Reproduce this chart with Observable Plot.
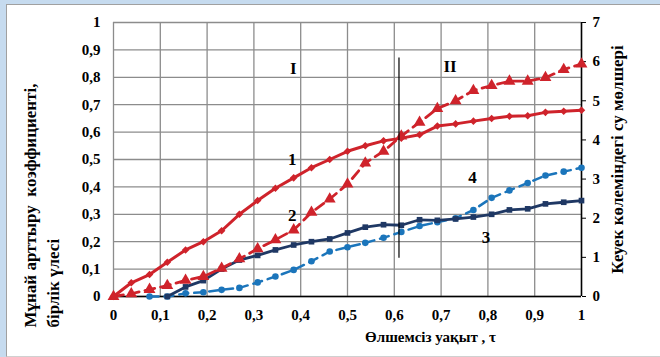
<!DOCTYPE html>
<html><head><meta charset="utf-8">
<script src="https://cdn.jsdelivr.net/npm/d3@7"></script>
<script src="https://cdn.jsdelivr.net/npm/@observablehq/plot@0.6"></script>
<style>
body{margin:0;background:#c6dbef;width:660px;height:357px;overflow:hidden;position:relative}
#box{position:absolute;left:6px;top:4px;width:654px;height:351px;background:#fff;border-left:1px solid #a0a0a0;border-top:1px solid #a0a0a0;border-bottom:1px solid #d0d0d0;}
</style></head><body><div id="box"></div>
<script>
// Dimensionless time τ
const tau = [0, 0.038, 0.077, 0.115, 0.154, 0.192, 0.231, 0.269, 0.308, 0.346, 0.385, 0.423, 0.462, 0.5,
  0.538, 0.577, 0.615, 0.654, 0.692, 0.731, 0.769, 0.808, 0.846, 0.885, 0.923, 0.962, 1];
// Curve 1 (left axis, oil recovery coefficient)
const curve1 = [0, 0.05, 0.08, 0.125, 0.17, 0.2, 0.24, 0.30, 0.35, 0.395, 0.433, 0.47, 0.50, 0.53,
  0.55, 0.568, 0.578, 0.59, 0.622, 0.63, 0.64, 0.65, 0.658, 0.66, 0.672, 0.676, 0.68];
// Curve 2 (right axis, water in pore volumes)
const curve2 = [0, 0.07, 0.18, 0.28, 0.41, 0.51, 0.72, 0.96, 1.22, 1.45, 1.70, 2.15, 2.49, 2.87,
  3.41, 3.71, 4.10, 4.45, 4.80, 5.0, 5.26, 5.39, 5.5, 5.5, 5.59, 5.8, 5.94];
// Curve 3 (left axis)
const curve3 = [null, null, null, 0, 0.035, 0.058, 0.10, 0.133, 0.15, 0.17, 0.188, 0.20, 0.21, 0.232,
  0.253, 0.262, 0.26, 0.28, 0.278, 0.283, 0.29, 0.30, 0.316, 0.32, 0.338, 0.344, 0.35];
// Curve 4 (right axis)
const curve4 = [null, null, 0, 0, 0.08, 0.11, 0.17, 0.22, 0.36, 0.51, 0.68, 0.90, 1.15, 1.26,
  1.37, 1.50, 1.65, 1.80, 1.90, 2.00, 2.21, 2.52, 2.71, 2.90, 3.09, 3.19, 3.29];

const leftTicks = [0, 0.1, 0.2, 0.3, 0.4, 0.5, 0.6, 0.7, 0.8, 0.9, 1];
const xTicks = [0, 0.1, 0.2, 0.3, 0.4, 0.5, 0.6, 0.7, 0.8, 0.9, 1];
const rightTicks = [0, 1, 2, 3, 4, 5, 6, 7];
const rightMax = 7;

const stageBoundary = 0.61;
const annotations = [
  {t: "I", x: 0.384, y: 0.833}, {t: "II", x: 0.719, y: 0.839},
  {t: "1", x: 0.382, y: 0.5}, {t: "2", x: 0.382, y: 0.296},
  {t: "3", x: 0.796, y: 0.216}, {t: "4", x: 0.767, y: 0.435}
];

const toRows = (vals, right) => tau.map((x, i) => ({x, y: vals[i] == null ? null : (right ? vals[i] / rightMax : vals[i])})).filter(d => d.y != null);
const s1 = toRows(curve1, false), s2 = toRows(curve2, true), s3 = toRows(curve3, false), s4 = toRows(curve4, true);

const fmt = d => (d === 0 || d === 1) ? String(d) : d.toFixed(1).replace(".", ",");
const RED = "#cf232b", NAVY = "#1f3864", BLUE = "#1b75bb";

const chart = Plot.plot({
  width: 653, height: 351,
  marginLeft: 106, marginTop: 17, marginRight: 79, marginBottom: 60,
  x: {domain: [0, 1]}, y: {domain: [0, 1]},
  style: {fontFamily: "'Liberation Serif', 'Times New Roman', serif", fontWeight: "bold", fontSize: "15px", color: "#000", background: "white"},
  marks: [
    Plot.gridX(xTicks, {stroke: "#8c8c8c", strokeOpacity: 1, strokeWidth: 1.3}),
    Plot.gridY(leftTicks, {stroke: "#8c8c8c", strokeOpacity: 1, strokeWidth: 1.3}),
    Plot.axisY(leftTicks, {anchor: "left", tickSize: 0, tickPadding: 13, tickFormat: fmt, fontSize: 15, label: null}),
    Plot.axisX(xTicks, {anchor: "bottom", tickSize: 0, tickPadding: 13, tickFormat: fmt, fontSize: 15, label: null}),
    Plot.axisY(rightTicks.map(v => v / rightMax), {anchor: "right", tickSize: 4, tickPadding: 7, tickFormat: d => Math.round(d * rightMax), fontSize: 15, label: null, stroke: "#000"}),
    Plot.ruleY([0], {stroke: "#000", strokeWidth: 1.5}),
    Plot.ruleX([1], {stroke: "#000", strokeWidth: 1.5}),
    // curve 4
    Plot.line(s4, {x: "x", y: "y", stroke: BLUE, strokeWidth: 2.5, strokeDasharray: "9,6"}),
    Plot.dot(s4, {x: "x", y: "y", fill: BLUE, r: 3.3, symbol: "circle"}),
    // curve 3
    Plot.line(s3, {x: "x", y: "y", stroke: NAVY, strokeWidth: 2.8}),
    Plot.dot(s3, {x: "x", y: "y", fill: NAVY, r: 3.2, symbol: "square"}),
    // curve 2
    Plot.line(s2, {x: "x", y: "y", stroke: RED, strokeWidth: 2.8, strokeDasharray: "10,6"}),
    Plot.dot(s2, {x: "x", y: "y", fill: RED, r: 4.4, symbol: "triangle"}),
    // curve 1
    Plot.line(s1, {x: "x", y: "y", stroke: RED, strokeWidth: 3}),
    Plot.dot(s1, {x: "x", y: "y", fill: RED, r: 3.4, symbol: "diamond2"}),
    // stage boundary
    Plot.ruleX([stageBoundary], {y1: 0.14, y2: 0.87, stroke: "#000", strokeWidth: 1.2}),
    Plot.text(annotations, {x: "x", y: "y", text: "t", fontSize: 17, fontWeight: "bold", fill: "#000"}),
    // axis titles
    Plot.text(["Мұнай арттыру\u00a0 коэффициенті,\nбірлік үлесі"], {frameAnchor: "bottom-left", dx: -55, dy: 31, rotate: -90, textAnchor: "start", lineHeight: 1.32, fontSize: 17, fontWeight: "bold", fill: "#000"}),
    Plot.text(["Кеуек көлеміндегі су мөлшері"], {frameAnchor: "right", dx: 36, dy: 0, rotate: -90, textAnchor: "middle", fontSize: 17, fontWeight: "bold", fill: "#000"}),
    Plot.text(["Өлшемсіз уақыт , τ"], {frameAnchor: "bottom", dx: 83, dy: 45, fontSize: 15, fontWeight: "bold", fill: "#000"})
  ]
});
document.getElementById("box").appendChild(chart);
</script>
</body></html>
